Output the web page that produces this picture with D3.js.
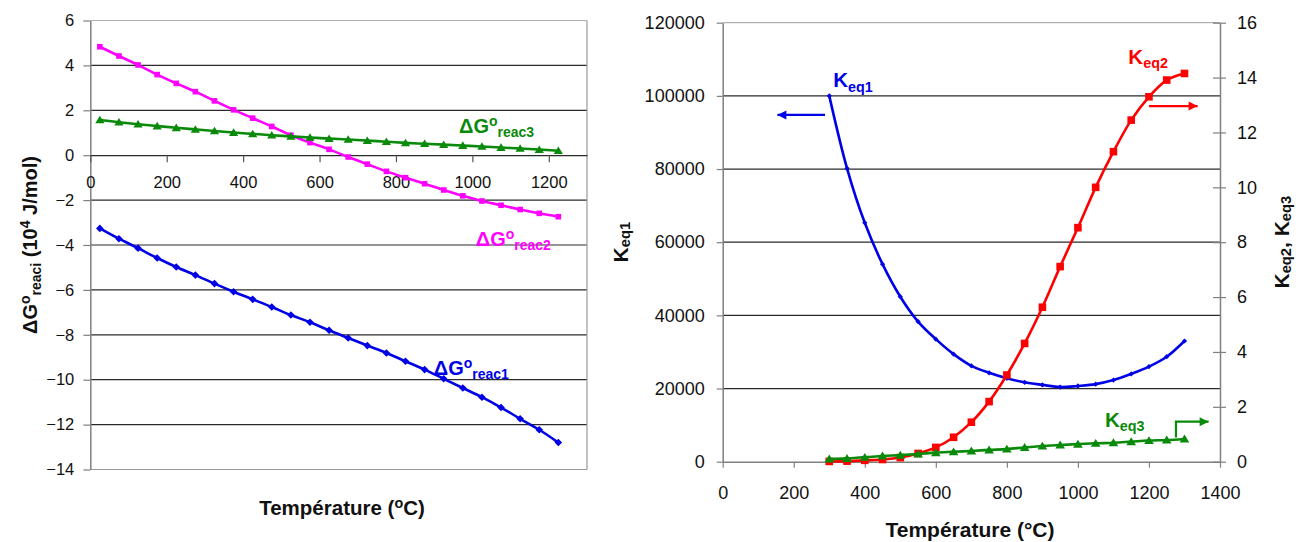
<!DOCTYPE html>
<html><head><meta charset="utf-8">
<script src="https://cdn.jsdelivr.net/npm/d3@7"></script>
<style>
body{margin:0;background:#fff}
svg{display:block}
text{font-family:"Liberation Sans",Arial,sans-serif}
</style>
</head><body>
<svg id="c" width="1296" height="542"></svg>
<script>
// ---------- Left chart data ----------
const tempLeft = [25,75,125,175,225,275,325,375,425,475,525,575,625,675,725,775,825,875,925,975,1025,1075,1125,1175,1225];
const dgReac1 = [-3.26,-3.72,-4.14,-4.58,-4.98,-5.34,-5.72,-6.08,-6.42,-6.76,-7.12,-7.44,-7.80,-8.14,-8.48,-8.81,-9.18,-9.55,-9.96,-10.37,-10.78,-11.24,-11.74,-12.23,-12.80];
const dgReac2 = [4.83,4.42,4.02,3.59,3.20,2.83,2.42,2.02,1.65,1.28,0.89,0.56,0.26,-0.08,-0.40,-0.72,-1.00,-1.27,-1.55,-1.81,-2.04,-2.23,-2.42,-2.59,-2.74];
const dgReac3 = [1.57,1.47,1.38,1.30,1.22,1.15,1.08,1.01,0.95,0.89,0.84,0.79,0.74,0.70,0.65,0.60,0.55,0.51,0.47,0.43,0.39,0.34,0.30,0.25,0.20];
const leftYTicks = [-14,-12,-10,-8,-6,-4,-2,0,2,4,6];
const leftXTicks = [0,200,400,600,800,1000,1200];

// ---------- Right chart data ----------
const tempRight = [300,350,400,450,500,550,600,650,700,750,800,850,900,950,1000,1050,1100,1150,1200,1250,1300];
const keq1 = [100000,80200,65300,54000,45100,38300,33500,29400,26200,24300,22800,21700,21000,20400,20700,21200,22300,24000,26000,28700,33000];
const keq2 = [0.01,0.02,0.05,0.08,0.15,0.30,0.52,0.89,1.44,2.19,3.16,4.31,5.63,7.11,8.53,10.0,11.3,12.45,13.3,13.91,14.15];
const keq3 = [0.10,0.12,0.16,0.21,0.24,0.28,0.33,0.36,0.39,0.43,0.46,0.52,0.57,0.61,0.64,0.67,0.69,0.73,0.77,0.79,0.83];
const rightXTicks = [0,200,400,600,800,1000,1200,1400];
const keq1Ticks = [0,20000,40000,60000,80000,100000,120000];
const keq23Ticks = [0,2,4,6,8,10,12,14,16];

const BLUE="#0000e6", MAG="#ff00ff", GREEN="#0a8a0a", RED="#ff0000";
const FONT='"Liberation Sans",Arial,sans-serif';
const fmt = d3.format("d");

const svg = d3.select("#c");

function rich(sel, parts, size, subK){
  let cur = 0;
  const sk = subK===undefined ? 0.2 : subK;
  parts.forEach(p=>{
    const target = p.sup ? -size*0.36 : p.sub ? size*sk : 0;
    sel.append("tspan").attr("dy", (target-cur).toFixed(2))
      .attr("font-size", (p.sup||p.sub) ? size*0.7 : size).text(p.t);
    cur = target;
  });
}

function marker(g, type, x, y, s, color){
  if(type==="diamond"){
    g.append("path").attr("d",`M${x},${y-s}L${x+s},${y}L${x},${y+s}L${x-s},${y}Z`).attr("fill",color);
  } else if(type==="square"){
    g.append("rect").attr("x",x-s).attr("y",y-s).attr("width",2*s).attr("height",2*s).attr("fill",color);
  } else {
    g.append("path").attr("d",`M${x},${y-s}L${x+s*1.1},${y+s*0.8}L${x-s*1.1},${y+s*0.8}Z`).attr("fill",color);
  }
}

// ================= LEFT CHART =================
const xL = d3.scaleLinear().domain([0,1300]).range([90.3,587]);
const yL = d3.scaleLinear().domain([-14,6]).range([469.5,20.5]);
const gL = svg.append("g");

leftYTicks.forEach(t=>{
  if(t===0) return;
  gL.append("line").attr("x1",xL(0)).attr("x2",xL(1300)).attr("y1",yL(t)).attr("y2",yL(t))
    .attr("stroke", t===6 ? "#b0b0b0" : (t===-14 ? "#999" : "#2a2a2a")).attr("stroke-width",1.2);
});
gL.append("line").attr("x1",xL(1300)).attr("x2",xL(1300)).attr("y1",yL(6)).attr("y2",yL(-14)).attr("stroke","#999").attr("stroke-width",1.2);

const axL = gL.append("g").attr("transform",`translate(${xL(0)},0)`)
  .call(d3.axisLeft(yL).tickValues(leftYTicks).tickFormat(fmt).tickSize(7).tickSizeOuter(0).tickPadding(9));
axL.select(".domain").attr("stroke","#808080").attr("stroke-width",1.5);
axL.selectAll(".tick line").attr("stroke","#808080").attr("stroke-width",1.2);
axL.selectAll("text").attr("font-size",16.5).attr("fill","#111").style("font-family",FONT);

const axLx = gL.append("g").attr("transform",`translate(0,${yL(0)})`)
  .call(d3.axisBottom(xL).tickValues(leftXTicks).tickFormat(fmt).tickSize(7).tickSizeOuter(0).tickPadding(14));
axLx.select(".domain").attr("stroke","#2a2a2a").attr("stroke-width",1.2);
axLx.selectAll(".tick line").attr("stroke","#555").attr("stroke-width",1.2);
axLx.selectAll("text").attr("font-size",16.5).attr("fill","#111").style("font-family",FONT);

const lineL = (vals)=> d3.line().x((d,i)=>xL(tempLeft[i])).y(d=>yL(d)).curve(d3.curveCatmullRom)(vals);
[[dgReac1,BLUE,"diamond",3.8],[dgReac2,MAG,"square",2.8],[dgReac3,GREEN,"tri",4.2]].forEach(([vals,col,type,s])=>{
  gL.append("path").attr("d",lineL(vals)).attr("fill","none").attr("stroke",col).attr("stroke-width",2.6);
  vals.forEach((v,i)=>marker(gL,type,xL(tempLeft[i]),yL(v),s,col));
});

const leftLabels = [
  {x:965, y:1.0, c:GREEN, n:"reac3"},
  {x:1009, y:-4.05, c:MAG, n:"reac2"},
  {x:899, y:-9.78, c:BLUE, n:"reac1"}
];
leftLabels.forEach(l=>{
  const t = gL.append("text").attr("x",xL(l.x)).attr("y",yL(l.y)).attr("fill",l.c).attr("font-weight","bold");
  rich(t,[{t:"ΔG"},{t:"o",sup:true},{t:l.n,sub:true}],20);
});

const tl = svg.append("text").attr("transform",`translate(37,${(yL(6)+yL(-14))/2}) rotate(-90)`)
  .attr("text-anchor","middle").attr("font-weight","bold").attr("fill","#111");
rich(tl,[{t:"ΔG"},{t:"o",sup:true},{t:"reaci",sub:true},{t:" (10"},{t:"4",sup:true},{t:" J/mol)"}],20);
const txl = svg.append("text").attr("x",342).attr("y",515).attr("text-anchor","middle").attr("font-weight","bold").attr("fill","#111");
rich(txl,[{t:"Température ("},{t:"o",sup:true},{t:"C)"}],20.5);

// ================= RIGHT CHART =================
const xR = d3.scaleLinear().domain([0,1400]).range([722.7,1220]);
const yR1 = d3.scaleLinear().domain([0,120000]).range([461.7,22.7]);
const yR2 = d3.scaleLinear().domain([0,16]).range([461.7,22.7]);
const gR = svg.append("g");

keq1Ticks.forEach(t=>{
  if(t===0) return;
  gR.append("line").attr("x1",xR(0)).attr("x2",xR(1400)).attr("y1",yR1(t)).attr("y2",yR1(t))
    .attr("stroke", t===120000 ? "#b0b0b0" : "#2a2a2a").attr("stroke-width",1.2);
});

const aR1 = gR.append("g").attr("transform",`translate(${xR(0)},0)`)
  .call(d3.axisLeft(yR1).tickValues(keq1Ticks).tickFormat(fmt).tickSize(6).tickSizeOuter(0).tickPadding(12));
aR1.select(".domain").attr("stroke","#808080").attr("stroke-width",1.5);
aR1.selectAll(".tick line").attr("stroke","#808080").attr("stroke-width",1.2);
aR1.selectAll("text").attr("font-size",18).attr("fill","#111").style("font-family",FONT);

const aR2 = gR.append("g").attr("transform",`translate(${xR(1400)},0)`)
  .call(d3.axisRight(yR2).tickValues(keq23Ticks).tickFormat(fmt).tickSize(6).tickSizeOuter(0).tickPadding(11));
aR2.select(".domain").attr("stroke","#808080").attr("stroke-width",1.5);
aR2.selectAll(".tick line").attr("stroke","#808080").attr("stroke-width",1.2).attr("x1",-7);
aR2.selectAll("text").attr("font-size",18).attr("fill","#111").style("font-family",FONT);

const aRx = gR.append("g").attr("transform",`translate(0,${yR1(0)})`)
  .call(d3.axisBottom(xR).tickValues(rightXTicks).tickFormat(fmt).tickSize(6).tickSizeOuter(0).tickPadding(19));
aRx.select(".domain").attr("stroke","#808080").attr("stroke-width",1.5);
aRx.selectAll(".tick line").attr("stroke","#808080").attr("stroke-width",1.2);
aRx.selectAll("text").attr("font-size",18).attr("fill","#111").style("font-family",FONT);

const lineR = (vals,ys)=> d3.line().x((d,i)=>xR(tempRight[i])).y(d=>ys(d)).curve(d3.curveCatmullRom)(vals);
[[keq1,yR1,BLUE,"diamond",2.6],[keq2,yR2,RED,"square",3.8],[keq3,yR2,GREEN,"tri",4.4]].forEach(([vals,ys,col,type,s])=>{
  gR.append("path").attr("d",lineR(vals,ys)).attr("fill","none").attr("stroke",col).attr("stroke-width",2.6);
  vals.forEach((v,i)=>marker(gR,type,xR(tempRight[i]),ys(v),s,col));
});

const rightLabels = [
  {x:311, y:yR1(102300), c:BLUE, n:"eq1"},
  {x:1142, y:yR2(14.49), c:RED, n:"eq2"},
  {x:1076, y:yR2(1.28), c:GREEN, n:"eq3"}
];
rightLabels.forEach(l=>{
  const t = gR.append("text").attr("x",xR(l.x)).attr("y",l.y).attr("fill",l.c).attr("font-weight","bold");
  rich(t,[{t:"K"},{t:l.n,sub:true}],20.5);
});

function arrow(points, col, ys){
  const pts = points.map(p=>[xR(p[0]), ys(p[1])]);
  gR.append("path").attr("d",d3.line()(pts)).attr("fill","none").attr("stroke",col).attr("stroke-width",2.2);
  const [x1,y1] = pts[pts.length-2], [x2,y2] = pts[pts.length-1];
  const ang = Math.atan2(y2-y1,x2-x1), L=9, W=4.5;
  const bx = x2-L*Math.cos(ang), by = y2-L*Math.sin(ang);
  gR.append("path").attr("d",`M${x2},${y2}L${bx-W*Math.sin(ang)},${by+W*Math.cos(ang)}L${bx+W*Math.sin(ang)},${by-W*Math.cos(ang)}Z`).attr("fill",col);
}
arrow([[288,94800],[154,94800]], BLUE, yR1);
arrow([[1200,12.96],[1337,12.96]], RED, yR2);
arrow([[1276,0.88],[1276,1.46],[1368,1.46]], GREEN, yR2);

const ty1 = svg.append("text").attr("transform",`translate(628,${(yR1(0)+yR1(120000))/2}) rotate(-90)`)
  .attr("text-anchor","middle").attr("font-weight","bold").attr("fill","#111");
rich(ty1,[{t:"K"},{t:"eq1",sub:true}],21, 0.1);
const ty2 = svg.append("text").attr("transform",`translate(1289,${(yR1(0)+yR1(120000))/2}) rotate(-90)`)
  .attr("text-anchor","middle").attr("font-weight","bold").attr("fill","#111");
rich(ty2,[{t:"K"},{t:"eq2",sub:true},{t:", K"},{t:"eq3",sub:true}],21, 0.1);
svg.append("text").attr("x",970).attr("y",537).attr("text-anchor","middle").attr("font-weight","bold")
  .attr("font-size",21).attr("fill","#111").text("Température (°C)");
</script>
</body></html>
